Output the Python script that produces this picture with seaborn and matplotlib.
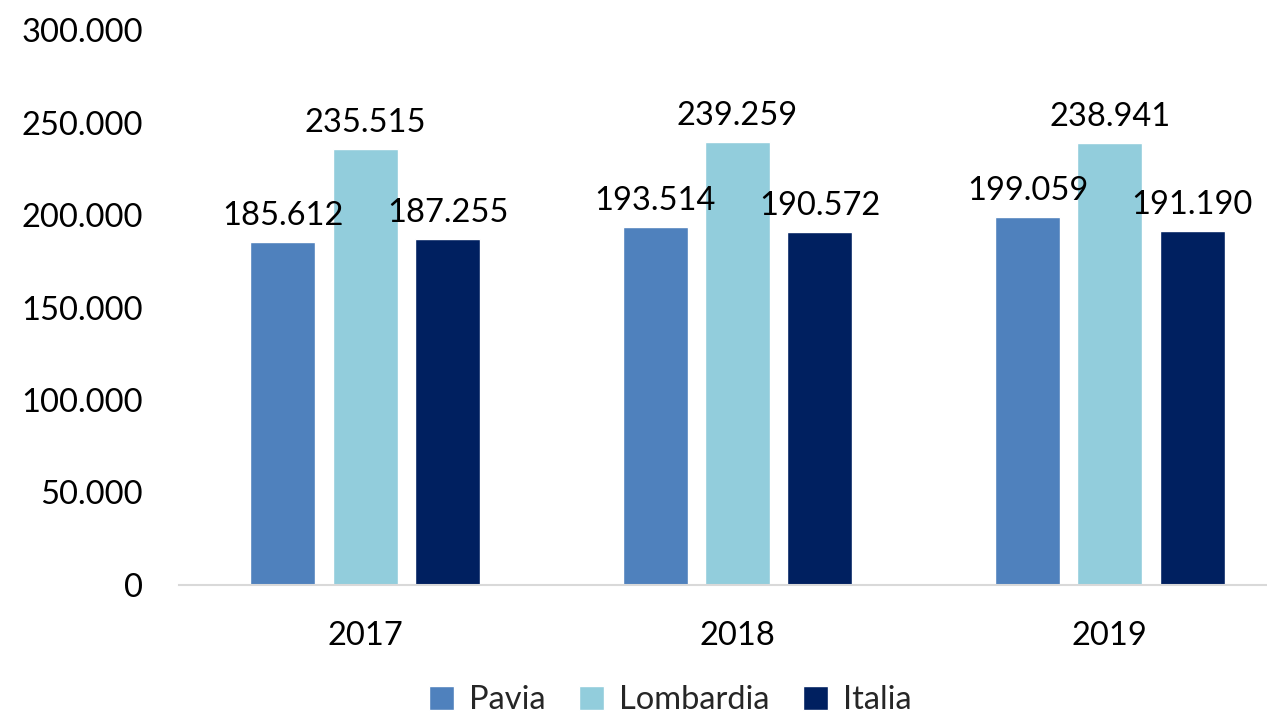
import matplotlib
matplotlib.use("Agg")
import matplotlib.pyplot as plt
import seaborn as sns
import pandas as pd
from matplotlib.patches import Patch

years = ["2017", "2018", "2019"]
series = ["Pavia", "Lombardia", "Italia"]
pavia = [185612, 193514, 199059]
lombardia = [235515, 239259, 238941]
italia = [187255, 190572, 191190]
yticks = [0, 50000, 100000, 150000, 200000, 250000, 300000]
colors = ["#4F81BD", "#92CDDC", "#002060"]

df = pd.DataFrame({
    "year": years * 3,
    "series": [s for s in series for _ in years],
    "value": pavia + lombardia + italia,
})

sns.set_theme(style="white")
plt.rcParams["font.family"] = ["Lato", "DejaVu Sans"]

FS = 23.5
fig = plt.figure(figsize=(12.67, 7.16), dpi=100)
ax = fig.add_axes([0.1413, 0.183, 0.8816, 0.775])

sns.barplot(data=df, x="year", y="value", hue="series", order=years,
            hue_order=series, palette=colors, width=0.664, gap=0.21,
            saturation=1, ax=ax, legend=False)

def fmt(v):
    return f"{int(v):,}".replace(",", ".")

for cont in ax.containers:
    ax.bar_label(cont, labels=[fmt(b.get_height()) for b in cont], padding=8,
                 fontsize=FS, color="black")

ax.set_ylim(0, 300000)
ax.set_yticks(yticks)
ax.set_yticklabels([fmt(v) for v in yticks], fontsize=FS)
ax.tick_params(axis="x", labelsize=FS, pad=26, length=0)
ax.tick_params(axis="y", pad=26, length=0)
ax.set_xlabel("")
ax.set_ylabel("")
for s in ["top", "right", "left"]:
    ax.spines[s].set_visible(False)
ax.spines["bottom"].set_color("#D9D9D9")
ax.spines["bottom"].set_linewidth(1.5)
for t in ax.get_xticklabels() + ax.get_yticklabels():
    t.set_color("black")

handles = [Patch(facecolor=c, label=s) for s, c in zip(series, colors)]
fig.legend(handles=handles, loc="center", bbox_to_anchor=(0.529, 0.022), ncol=3,
           frameon=False, fontsize=FS, handlelength=0.75, handleheight=0.75,
           handletextpad=0.45, columnspacing=1.05)

fig.savefig("out.png", dpi=100)
